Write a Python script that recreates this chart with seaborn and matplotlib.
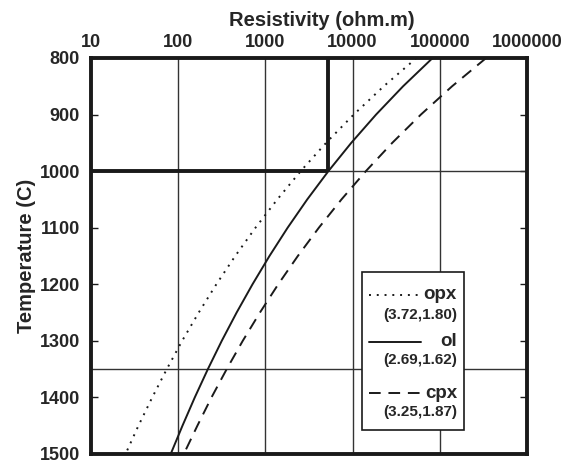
import matplotlib
matplotlib.use("Agg")
import matplotlib.pyplot as plt
import seaborn as sns
import pandas as pd
from matplotlib.patches import Rectangle
from matplotlib.ticker import NullLocator

# temperature (C) and resistivity (ohm.m)
temps = [800, 850, 900, 950, 1000, 1050, 1100, 1150, 1200, 1250, 1300, 1350, 1400, 1450, 1500]
rho_opx = [54100, 22750, 10300, 4970, 2540, 1370, 770, 451, 274, 172, 111, 74, 50.4, 35.0, 24.9]
rho_ol = [82800, 37950, 18600, 9660, 5280, 3020, 1800, 1114, 712, 468, 316, 219, 155, 112, 82.1]
rho_cpx = [340500, 138400, 60750, 28510, 14210, 7460, 4105, 2356, 1404, 866, 550, 360, 241, 166, 116]

minerals = ["opx", "ol", "cpx"]
params = ["(3.72,1.80)", "(2.69,1.62)", "(3.25,1.87)"]

x_ticks = [10, 100, 1000, 10000, 100000, 1000000]
x_labels = ["10", "100", "1000", "10000", "100000", "1000000"]
y_ticks = [800, 900, 1000, 1100, 1200, 1300, 1400, 1500]
grid_temps = [1000, 1350]
box_rho = 5280   # ol resistivity at 1000 C
box_temp = 1000

sns.set_style("white")
plt.rcParams["font.family"] = ["Liberation Sans", "DejaVu Sans"]
plt.rcParams["font.weight"] = "bold"

df = pd.concat([
    pd.DataFrame({"rho": r, "temp": temps, "mineral": m})
    for m, r in zip(minerals, [rho_opx, rho_ol, rho_cpx])
])

fig = plt.figure(figsize=(5.81, 4.61), dpi=100)
ax = fig.add_axes([0.1566, 0.0152, 0.7504, 0.859])

ink = "#1a1a1a"
dash_map = {"opx": (1, 3), "ol": "", "cpx": (6, 4)}

# grid lines
ax.vlines(x_ticks[1:-1], 800, 1500, color="#333333", lw=1.0, zorder=1)
ax.hlines(grid_temps, 10, 1000000, color="#333333", lw=1.0, zorder=1)
# thick reference box
ax.hlines(box_temp, 10, box_rho, color=ink, lw=2.8, zorder=3)
ax.vlines(box_rho, 800, box_temp, color=ink, lw=2.8, zorder=3)

sns.lineplot(data=df, x="rho", y="temp", style="mineral", dashes=dash_map,
             sort=False, estimator=None, color=ink, linewidth=1.4,
             legend=False, ax=ax, zorder=4)

ax.set_xscale("log")
ax.set_xlim(10, 1000000)
ax.set_ylim(1500, 800)

ax.xaxis.tick_top()
ax.set_xticks(x_ticks)
ax.set_xticklabels(x_labels)
ax.xaxis.set_minor_locator(NullLocator())
ax.tick_params(axis="x", length=0, pad=5, labelsize=13)
ax.set_yticks(y_ticks)
ax.tick_params(axis="y", direction="in", length=5, width=1, left=True, right=True,
               labelsize=13, pad=8, color=ink)

ax.set_xlabel("Resistivity (ohm.m)", fontsize=14.5, fontweight="bold")
ax.xaxis.set_label_position("top")
ax.xaxis.set_label_coords(0.529, 1.082)
ax.set_ylabel("Temperature (C)", fontsize=14.5, fontweight="bold")
ax.yaxis.set_label_coords(-0.125, 0.5)

for s in ax.spines.values():
    s.set_linewidth(2.8)
    s.set_color(ink)
    s.set_zorder(6)

# legend box
ax.add_patch(Rectangle((0.6216, 0.0606), 0.2339, 0.399, transform=ax.transAxes,
                       facecolor="white", edgecolor=ink, lw=1.2, zorder=5))
line_y = [0.4015, 0.283, 0.154]
par_y = [0.351, 0.237, 0.106]
for m, p, ly, py in zip(minerals, params, line_y, par_y):
    ax.plot([0.6376, 0.757], [ly, ly], transform=ax.transAxes, color=ink, lw=1.4,
            dashes=dash_map[m] if dash_map[m] else (None, None), zorder=6)
    ax.text(0.8394, ly, m, transform=ax.transAxes, ha="right", va="center",
            fontsize=13.5, fontweight="bold", zorder=6)
    ax.text(0.8394, py, p, transform=ax.transAxes, ha="right", va="center",
            fontsize=11, fontweight="bold", zorder=6)

fig.savefig("out.png", dpi=100)
